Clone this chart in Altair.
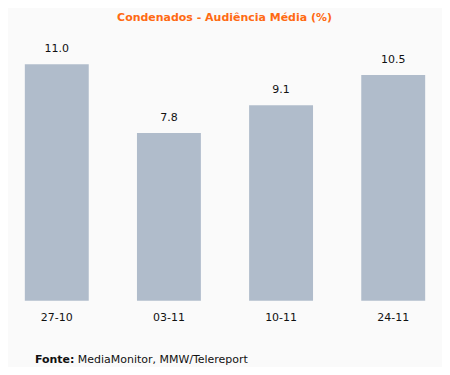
import altair as alt
import pandas as pd

categories = ["27-10", "03-11", "10-11", "24-11"]
values = [11.0, 7.8, 9.1, 10.5]
labels = ["11.0", "7.8", "9.1", "10.5"]
title_text = "Condenados - Audiência Média (%)"

df = pd.DataFrame({"cat": categories, "val": values, "lab": labels})

FONT = "DejaVu Sans"

x = alt.X("cat:N", sort=categories, title=None,
          scale=alt.Scale(paddingInner=0.43, paddingOuter=0.15),
          axis=alt.Axis(labelAngle=0, ticks=False, domain=False, labelPadding=11,
                        labelFont=FONT, labelFontSize=11, labelColor="#111111"))
y = alt.Y("val:Q", scale=alt.Scale(domain=[0, 11], nice=False, zero=True), axis=None)

base = alt.Chart(df)
bars = base.mark_bar(color="#b0bccb").encode(x=x, y=y)
text = base.mark_text(baseline="alphabetic", dy=-12, font=FONT, fontSize=11,
                      color="#111111").encode(x=x, y=y, text="lab:N")

ttl = alt.Chart(pd.DataFrame({"t": [title_text]})).mark_text(
    align="center", baseline="middle", font=FONT, fontSize=11, fontWeight="bold",
    color="#ff6a13").encode(x=alt.value(217), y=alt.value(-46), text="t:N")

foot = pd.DataFrame({"t": ["Fonte:"]})
foot2 = pd.DataFrame({"t": ["MediaMonitor, MMW/Telereport"]})
f1 = alt.Chart(foot).mark_text(align="left", baseline="middle", font=FONT, fontSize=11,
                               fontWeight="bold", color="#111111").encode(
    x=alt.value(27), y=alt.value(296), text="t:N")
f2 = alt.Chart(foot2).mark_text(align="left", baseline="middle", font=FONT, fontSize=11,
                                color="#111111").encode(
    x=alt.value(70), y=alt.value(296), text="t:N")

chart = alt.layer(bars, text, ttl, f1, f2).properties(
    width=435, height=237,
    autosize=alt.AutoSizeParams(type="none"),
    padding={"left": 0, "top": 56, "right": 0, "bottom": 66},
    background="#fafafa",
).configure_view(stroke=None)

chart.save("out.html", embed_options={"renderer": "svg", "actions": False})
